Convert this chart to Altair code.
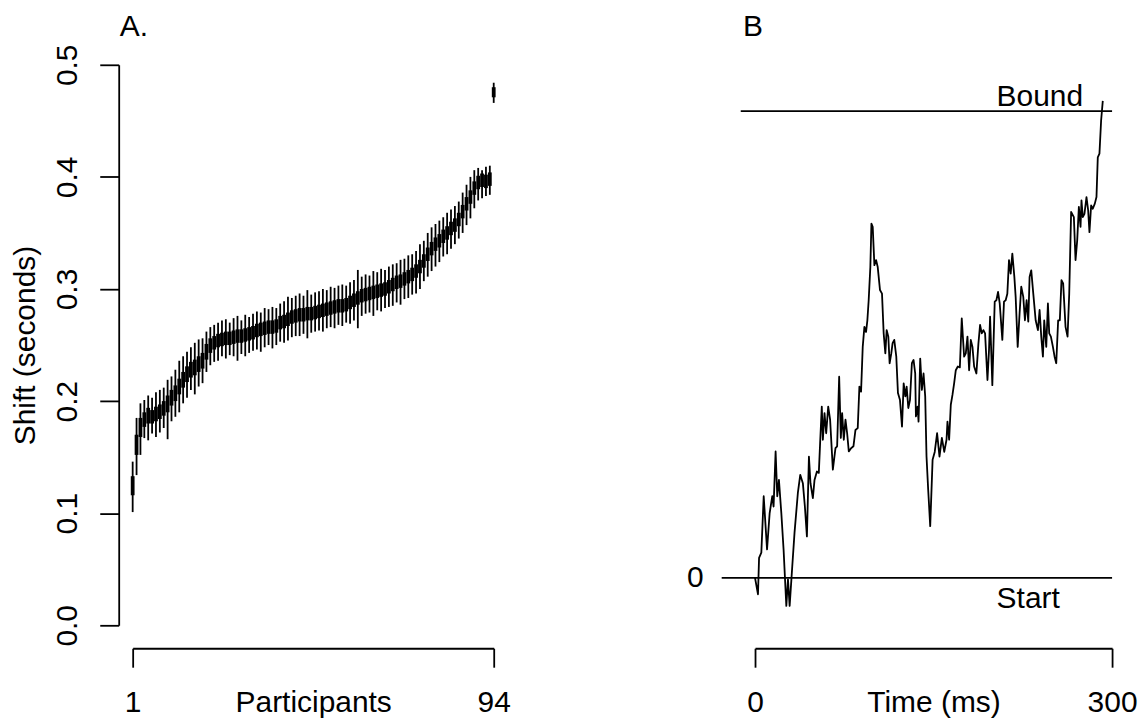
import altair as alt
import pandas as pd

# ---------------- Panel A data: per-participant shift distributions ----------
participant = list(range(1, 95))
whisker_lo = [0.101,0.134,0.152,0.167,0.165,0.171,0.168,0.172,0.176,0.166,
              0.182,0.186,0.190,0.198,0.203,0.210,0.206,0.213,0.216,0.226,
              0.232,0.235,0.236,0.240,0.238,0.241,0.240,0.236,0.242,0.240,
              0.243,0.245,0.246,0.244,0.248,0.250,0.247,0.250,0.253,0.252,
              0.254,0.257,0.258,0.258,0.260,0.256,0.261,0.262,0.263,0.262,
              0.265,0.266,0.265,0.268,0.267,0.270,0.269,0.272,0.265,0.276,
              0.278,0.279,0.276,0.281,0.280,0.283,0.284,0.285,0.288,0.286,
              0.291,0.292,0.295,0.296,0.300,0.307,0.311,0.316,0.320,0.324,
              0.329,0.331,0.336,0.340,0.345,0.350,0.357,0.363,0.372,0.379,
              0.381,0.383,0.384,0.466]
box_lo = [0.116,0.152,0.168,0.177,0.180,0.180,0.182,0.184,0.187,0.190,
          0.196,0.200,0.206,0.212,0.217,0.221,0.223,0.226,0.229,0.237,
          0.243,0.246,0.248,0.249,0.250,0.250,0.251,0.252,0.252,0.253,
          0.254,0.255,0.257,0.258,0.259,0.260,0.260,0.261,0.264,0.265,
          0.267,0.269,0.270,0.271,0.271,0.272,0.272,0.273,0.274,0.275,
          0.276,0.277,0.278,0.279,0.279,0.280,0.282,0.284,0.286,0.288,
          0.289,0.290,0.291,0.292,0.293,0.294,0.296,0.298,0.300,0.301,
          0.303,0.305,0.307,0.310,0.314,0.319,0.325,0.330,0.334,0.337,
          0.341,0.344,0.348,0.351,0.356,0.363,0.370,0.376,0.384,0.389,
          0.391,0.390,0.392,0.471]
box_hi = [0.133,0.170,0.185,0.190,0.194,0.192,0.195,0.197,0.200,0.205,
          0.210,0.214,0.220,0.226,0.231,0.235,0.237,0.240,0.243,0.251,
          0.256,0.258,0.260,0.261,0.262,0.262,0.263,0.264,0.264,0.265,
          0.266,0.267,0.269,0.270,0.271,0.272,0.272,0.273,0.276,0.277,
          0.279,0.281,0.282,0.283,0.283,0.284,0.284,0.285,0.286,0.287,
          0.288,0.289,0.290,0.291,0.291,0.292,0.294,0.296,0.298,0.300,
          0.301,0.302,0.303,0.304,0.305,0.306,0.308,0.310,0.312,0.313,
          0.315,0.317,0.319,0.322,0.326,0.331,0.337,0.342,0.346,0.349,
          0.353,0.356,0.360,0.363,0.368,0.375,0.382,0.388,0.396,0.401,
          0.403,0.402,0.404,0.480]
whisker_hi = [0.146,0.185,0.198,0.201,0.205,0.203,0.208,0.210,0.212,0.219,
              0.222,0.228,0.236,0.240,0.244,0.248,0.252,0.255,0.256,0.262,
              0.266,0.268,0.270,0.272,0.273,0.270,0.274,0.276,0.272,0.277,
              0.275,0.278,0.280,0.279,0.283,0.282,0.284,0.283,0.287,0.289,
              0.293,0.292,0.294,0.296,0.294,0.299,0.295,0.297,0.298,0.300,
              0.299,0.302,0.301,0.303,0.304,0.303,0.306,0.308,0.317,0.311,
              0.313,0.312,0.316,0.315,0.318,0.317,0.320,0.322,0.323,0.326,
              0.327,0.330,0.331,0.334,0.340,0.343,0.350,0.355,0.358,0.361,
              0.364,0.368,0.371,0.374,0.378,0.386,0.393,0.400,0.406,0.408,
              0.406,0.409,0.410,0.484]
a_x_ticks = [1, 94]
a_y_ticks = [0.0, 0.1, 0.2, 0.3, 0.4, 0.5]

# ---------------- Panel B data: one accumulation trace ----------------------
time_ms = [0, 2.5, 3.4, 5.3, 7.3, 10.1, 12.3, 14.5, 15.6, 17.3, 18.7, 20.1, 22.1, 24.0,
           26.3, 27.7, 29.1, 31.3, 33.2, 36.0, 38.0, 40.2, 41.9, 43.6, 45.3, 46.6, 48.6,
           50.0, 52.0, 53.6, 54.7, 56.1, 57.0, 58.4, 59.8, 61.5, 63.1, 65.4, 67.6, 69.0,
           70.7, 72.1, 73.2, 74.6, 76.0, 77.4, 78.8, 80.7, 82.7, 84.4, 86.3, 87.7, 89.1,
           90.5, 91.9, 93.3, 94.4, 95.5, 96.9, 97.8, 98.9, 100.3, 101.7, 103.1, 105.0,
           106.7, 108.1, 109.5, 110.6, 112.0, 113.1, 114.5, 115.6, 117.0, 118.7, 120.1,
           121.8, 123.5, 124.9, 126.3, 127.4, 128.8, 130.2, 131.8, 133.2, 134.6, 135.2,
           136.6, 137.4, 138.8, 140.2, 141.6, 143.0, 144.1, 145.5, 147.2, 149.2, 151.0,
           153.0, 155.0, 157.0, 159.0, 160.9, 161.7, 163.1, 164.5, 165.9, 167.3, 168.7,
           170.4, 172.1, 173.7, 175.7, 177.1, 178.5, 179.9, 181.3, 182.7, 184.1, 186.0,
           187.7, 189.1, 190.5, 191.9, 193.3, 195.3, 196.6, 197.5, 199.4, 201.4, 202.8,
           204.2, 205.6, 207.8, 209.2, 210.6, 212.0, 213.4, 214.8, 216.2, 217.9, 219.0,
           220.7, 222.3, 223.7, 225.4, 226.8, 228.2, 229.6, 230.7, 232.1, 233.8, 235.8,
           237.7, 239.1, 240.5, 241.9, 243.0, 244.7, 246.1, 247.2, 248.6, 250.3, 251.7,
           253.1, 254.7, 256.1, 257.5, 258.9, 260.9, 262.6, 264.0, 265.6, 267.9, 269.3,
           270.7, 272.1, 273.5, 274.3, 275.4, 276.8, 278.5, 279.9, 281.0, 282.4, 283.8,
           285.5, 286.9, 288.0, 289.4, 290.8, 292.2]
evidence = [0.0, -0.035, 0.043, 0.054, 0.175, 0.061, 0.139, 0.175, 0.153, 0.271, 0.175,
            0.210, 0.139, 0.061, -0.060, -0.003, -0.060, 0.025, 0.097, 0.182, 0.221, 0.203,
            0.153, 0.089, 0.260, 0.203, 0.171, 0.210, 0.228, 0.225, 0.289, 0.367, 0.296,
            0.353, 0.310, 0.367, 0.339, 0.232, 0.278, 0.282, 0.431, 0.300, 0.353, 0.296,
            0.339, 0.310, 0.271, 0.278, 0.282, 0.317, 0.321, 0.410, 0.399, 0.495, 0.538,
            0.527, 0.552, 0.595, 0.666, 0.759, 0.752, 0.670, 0.681, 0.666, 0.617, 0.609,
            0.524, 0.481, 0.531, 0.517, 0.460, 0.481, 0.503, 0.510, 0.474, 0.396, 0.381,
            0.324, 0.417, 0.389, 0.410, 0.364, 0.381, 0.460, 0.467, 0.438, 0.346, 0.367,
            0.335, 0.470, 0.403, 0.438, 0.389, 0.260, 0.189, 0.111, 0.253, 0.270, 0.310,
            0.260, 0.300, 0.270, 0.296, 0.335, 0.296, 0.371, 0.392, 0.417, 0.445, 0.453,
            0.451, 0.556, 0.474, 0.481, 0.517, 0.445, 0.510, 0.495, 0.453, 0.438, 0.502,
            0.542, 0.524, 0.531, 0.524, 0.424, 0.488, 0.560, 0.413, 0.592, 0.595, 0.613,
            0.588, 0.510, 0.592, 0.595, 0.609, 0.681, 0.652, 0.695, 0.645, 0.602, 0.495,
            0.567, 0.624, 0.602, 0.552, 0.595, 0.549, 0.645, 0.659, 0.609, 0.552, 0.531,
            0.574, 0.517, 0.474, 0.552, 0.495, 0.588, 0.524, 0.517, 0.495, 0.474, 0.460,
            0.552, 0.552, 0.638, 0.631, 0.538, 0.517, 0.609, 0.784, 0.773, 0.681, 0.723,
            0.795, 0.752, 0.809, 0.773, 0.780, 0.816, 0.788, 0.741, 0.798, 0.791, 0.802,
            0.816, 0.901, 0.909, 0.980, 1.022]
level_name = ["Start", "Bound"]
level_value = [0.0, 1.0]
level_from = [-28, -12]
level_to = [300, 300]
label_at = [203, 203]
b_x_ticks = [0, 300]
b_y_ticks = [0]

FONT = "Liberation Sans"
FS = 30
LW = 1.8

dfA = pd.DataFrame({"participant": participant, "lo": whisker_lo, "q1": box_lo,
                    "q3": box_hi, "hi": whisker_hi})
dfB = pd.DataFrame({"t": time_ms, "v": evidence})
dfL = pd.DataFrame({"name": level_name, "level": level_value, "x0": level_from,
                    "x1": level_to, "lx": label_at})

WA, HA = 362, 562
WB, HB = 358, 562

xA = alt.X("participant:Q",
           scale=alt.Scale(domain=[1, 94], nice=False, zero=False),
           axis=alt.Axis(values=a_x_ticks, title="Participants", grid=False,
                         tickSize=19, offset=23, labelPadding=44,
                         labelBaseline="alphabetic", labelFlush=False,
                         labelOverlap=False, titleY=63, titleX=WA / 2,
                         titleBaseline="alphabetic", titleAlign="center"))
yA_scale = alt.Scale(domain=[0, 0.5], nice=False, zero=False)
yA_axis = alt.Axis(values=a_y_ticks, format=".1f", title="Shift (seconds)", grid=False,
                   tickSize=19, offset=14, labelAngle=270, labelAlign="center",
                   labelBaseline="alphabetic", labelPadding=23, labelFlush=False,
                   labelOverlap=False, titleAngle=270, titleBaseline="alphabetic",
                   titleAlign="center", titleX=-84, titleY=HA / 2)

whiskers = alt.Chart(dfA).mark_rule(color="black", strokeWidth=LW).encode(
    x=xA, y=alt.Y("lo:Q", scale=yA_scale, axis=yA_axis), y2="hi:Q")
boxes = alt.Chart(dfA).mark_rule(color="black", strokeWidth=3.8, strokeCap="butt").encode(
    x="participant:Q", y="q1:Q", y2="q3:Q")

panelA = alt.layer(whiskers, boxes).properties(
    width=WA, height=HA,
    title=alt.TitleParams("A.", anchor="start", frame="group", dx=-13, offset=-22,
                          baseline="alphabetic", fontSize=FS, fontWeight="normal",
                          font=FONT, color="black"))

xB = alt.X("t:Q", scale=alt.Scale(domain=[0, 300], nice=False, zero=False),
           axis=alt.Axis(values=b_x_ticks, title="Time (ms)", grid=False,
                         tickSize=19, offset=23, labelPadding=44,
                         labelBaseline="alphabetic", labelFlush=False,
                         labelOverlap=False, titleY=63, titleX=WB / 2,
                         titleBaseline="alphabetic", titleAlign="center"))
yB_scale = alt.Scale(domain=[-0.1015, 1.0994], nice=False, zero=False)
yB_axis = alt.Axis(values=b_y_ticks, format="d", title=None, grid=False, domain=False,
                   ticks=False, tickSize=0, labelAngle=0, labelAlign="right",
                   labelBaseline="middle", labelPadding=52, labelFlush=False)

trace = alt.Chart(dfB).mark_line(color="black", strokeWidth=LW, strokeJoin="round").encode(
    x=xB, y=alt.Y("v:Q", scale=yB_scale, axis=yB_axis))
levels = alt.Chart(dfL).mark_rule(color="black", strokeWidth=LW).encode(
    x="x0:Q", x2="x1:Q", y="level:Q")
bound_txt = alt.Chart(dfL).transform_filter(alt.datum.name == "Bound").mark_text(
    align="left", baseline="alphabetic", dy=-5, font=FONT, fontSize=FS, color="black"
).encode(x="lx:Q", y="level:Q", text="name:N")
start_txt = alt.Chart(dfL).transform_filter(alt.datum.name == "Start").mark_text(
    align="left", baseline="alphabetic", dy=30.5, font=FONT, fontSize=FS, color="black"
).encode(x="lx:Q", y="level:Q", text="name:N")

panelB = alt.layer(trace, levels, bound_txt, start_txt).properties(
    width=WB, height=HB,
    title=alt.TitleParams("B", anchor="start", frame="group", dx=-12, offset=-1,
                          baseline="alphabetic", fontSize=FS, fontWeight="normal",
                          font=FONT, color="black"))

chart = alt.hconcat(panelA, panelB, spacing=262, bounds="flush").properties(
    padding={"left": 3, "top": 3, "right": 0, "bottom": 0}
).configure_view(stroke=None).configure_axis(
    domainColor="black", tickColor="black", labelColor="black", titleColor="black",
    domainWidth=LW, tickWidth=LW, labelFont=FONT, titleFont=FONT,
    labelFontSize=FS, titleFontSize=FS, titleFontWeight="normal", grid=False
)

chart.save("out.html", embed_options={"renderer": "svg", "actions": False})
